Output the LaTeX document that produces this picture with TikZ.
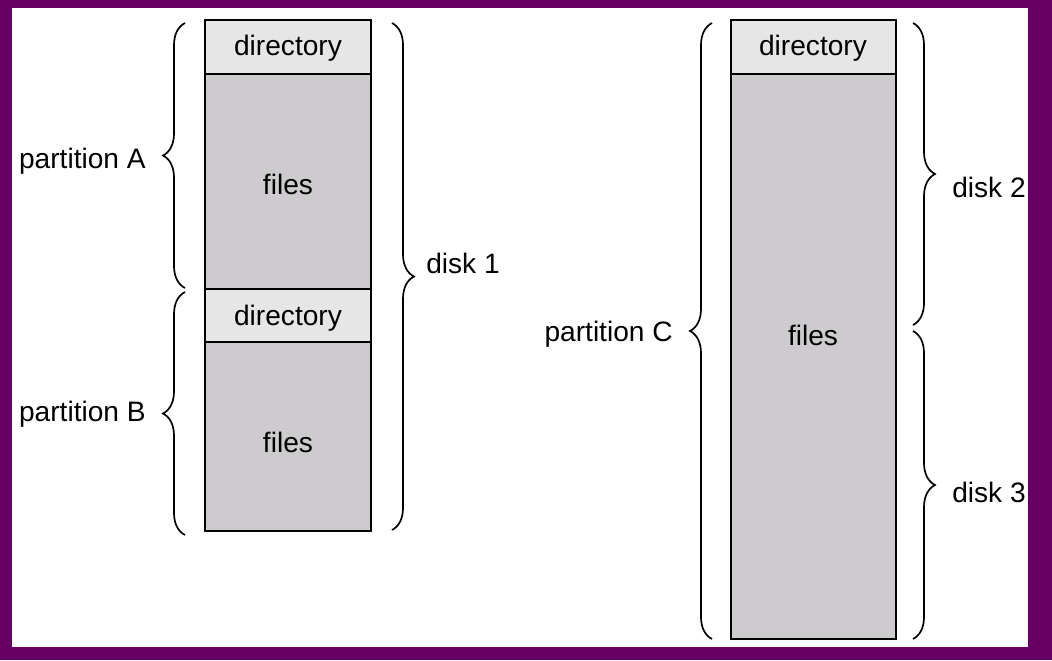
\documentclass[tikz,border=0pt]{standalone}
\usepackage{fontspec}
\setmainfont{Liberation Sans}
\usetikzlibrary{decorations.pathreplacing}
\definecolor{frame}{HTML}{660066}
\definecolor{dirgray}{HTML}{E6E6E6}
\definecolor{filegray}{HTML}{CDCBCE}

\begin{document}
\begin{tikzpicture}[x=0.025cm, y=-0.025cm,
    every node/.style={font=\fontsize{20}{24}\selectfont, inner sep=0pt},
    dirbox/.style={draw, line width=1.4pt, fill=dirgray},
    filebox/.style={draw, line width=1.4pt, fill=filegray},
    brace/.style={decorate, decoration={brace, amplitude=0.55cm}, line width=1.2pt}]
    % Frame
    \fill[frame] (0,0) rectangle (1052,660);
    \fill[white] (12,8) rectangle (1028,647);
    \useasboundingbox (0,0) rectangle (1052,660);

    % Disk 1 with partitions A and B
    \draw[filebox] (205,74) rectangle (371,289);
    \draw[dirbox] (205,20) rectangle (371,74);
    \draw[filebox] (205,342) rectangle (371,531);
    \draw[dirbox] (205,289) rectangle (371,342);
    \node (dirA) at (288,48) {directory};
    \node (filesA) at (288,184) {files};
    \node (dirB) at (288,318) {directory};
    \node (filesB) at (288,442) {files};

    % Partition C over disks 2 and 3
    \draw[filebox] (731,74) rectangle (896,639);
    \draw[dirbox] (731,20) rectangle (896,74);
    \node (dirC) at (813,48) {directory};
    \node (filesC) at (813,335) {files};

    % Braces on the left
    \draw[brace] (185,288) -- (185,23);
    \draw[brace] (185,535) -- (185,292);
    \draw[brace] (712,639) -- (712,23);
    \node[anchor=east] (partA) at (146,161) {partition A};
    \node[anchor=east] (partB) at (146,414) {partition B};
    \node[anchor=east] (partC) at (673,334) {partition C};

    % Braces on the right
    \draw[brace] (392,23) -- (392,530);
    \draw[brace] (913,23) -- (913,325);
    \draw[brace] (913,331) -- (913,639);
    \node[anchor=west] (disk1) at (426,263) {disk 1};
    \node[anchor=west] (disk2) at (952,187) {disk 2};
    \node[anchor=west] (disk3) at (952,492) {disk 3};

\end{tikzpicture}
\end{document}
